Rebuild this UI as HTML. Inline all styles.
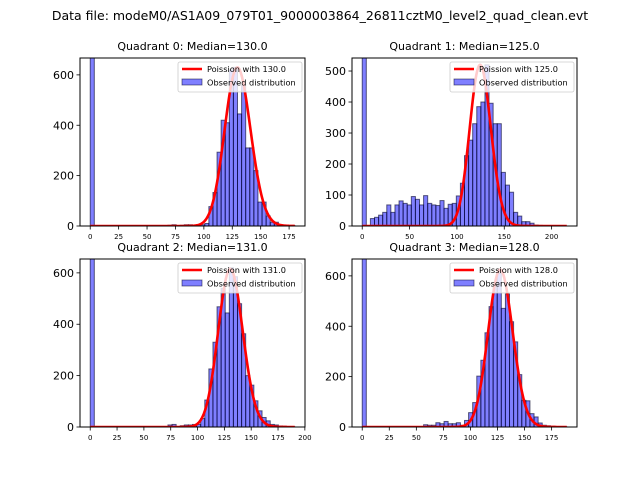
<!DOCTYPE html>
<html><head><meta charset="utf-8"><style>
body{margin:0;background:#fff;}
svg{display:block;font-family:"DejaVu Sans","Liberation Sans",sans-serif;}
</style></head><body>
<svg id="fig" width="640" height="480" viewBox="0 0 640 480">
<rect width="640" height="480" fill="#fff"/>
<text x="320" y="20" text-anchor="middle" font-size="12.5">Data file: modeM0/AS1A09_079T01_9000003864_26811cztM0_level2_quad_clean.evt</text>
</svg>
<script>
// ---- data ----
const medians = [130.0, 125.0, 131.0, 128.0];
const histMax = [180, 216, 190.6, 189];
const yMax = [667, 542, 654, 667];
const poissonAmp = [18000, 14570, 17650, 17725];
const q0Counts = [5000,0,0,0,0,0,0,0,0,0,0,0,0,0,0,0,0,0,0,3,5,2,3,5,5,2,3,5,10,77,133,293,420,410,620,630,445,560,310,310,220,95,95,40,15,15,5,3,2,2];
const q1Counts = [5000,0,24,28,35,44,68,44,68,81,73,68,95,86,68,98,73,68,66,82,57,70,73,97,138,227,277,330,385,400,520,396,330,330,173,132,109,44,32,14,14,9,3,2,1,1,1,1,1,0];
const q2Counts = [5000,0,0,0,0,0,0,0,0,0,0,0,0,0,0,0,0,0,0,8,10,2,5,8,8,10,10,33,105,226,330,468,540,444,620,585,480,363,200,163,102,63,37,24,10,8,4,3,2,1];
const q3Counts = [5000,0,0,0,0,0,0,0,0,0,0,0,0,0,0,9,7,7,17,13,22,13,13,17,7,26,57,97,202,265,374,478,560,610,471,528,418,338,208,106,104,53,40,16,7,5,3,2,2,1];
const xTicks0 = [0,25,50,75,100,125,150,175];
const xTicks1 = [0,50,100,150,200];
const xTicks2 = [0,25,50,75,100,125,150,175,200];
const xTicks3 = [0,25,50,75,100,125,150,175];
const yTicks0 = [0,200,400,600];
const yTicks1 = [0,100,200,300,400,500];
const yTicks2 = [0,200,400,600];
const yTicks3 = [0,200,400,600];

const NS="http://www.w3.org/2000/svg";
const fig=document.getElementById('fig');
function mk(tag,attrs,parent){const e=document.createElementNS(NS,tag);for(const k in attrs)e.setAttribute(k,attrs[k]);(parent||fig).appendChild(e);return e;}
function lgamma(z){
  if(z<7){let p=1;while(z<7){p*=z;z+=1;}return lgamma(z)-Math.log(p);}
  return (z-0.5)*Math.log(z)-z+0.5*Math.log(2*Math.PI)+1/(12*z)-1/(360*z*z*z);
}
const panels=[
 {L:80,T:58,counts:q0Counts,xt:xTicks0,yt:yTicks0},
 {L:352,T:58,counts:q1Counts,xt:xTicks1,yt:yTicks1},
 {L:80,T:259,counts:q2Counts,xt:xTicks2,yt:yTicks2},
 {L:352,T:259,counts:q3Counts,xt:xTicks3,yt:yTicks3}];
const W=225,H=168;
panels.forEach((p,i)=>{
  const span=histMax[i], x0=-0.05*span, x1=span*1.05;
  const sx=v=>p.L+(v-x0)/(x1-x0)*W;
  const sy=v=>p.T+H-v/yMax[i]*H;
  const g=mk('g',{});
  
  
  const cid='clip'+i;
  const cp=mk('clipPath',{id:cid},g);mk('rect',{x:p.L,y:p.T,width:W,height:H},cp);
  const t=mk('text',{x:p.L+W/2,y:p.T-8,'text-anchor':'middle','font-size':'11'},g);
  t.textContent='Quadrant '+i+': Median='+medians[i].toFixed(1);
  
  
  const bars=mk('g',{'clip-path':'url(#'+cid+')'},g);
  const bw=span/p.counts.length;
  p.counts.forEach((c,k)=>{
    if(c<=0)return;
    const r=mk('rect',{x:sx(k*bw),y:sy(c),width:sx(bw)-sx(0),height:sy(0)-sy(c),fill:'rgba(0,0,255,0.5)',stroke:'rgba(0,0,40,0.6)','stroke-width':'1'},bars);
    
    
  });
  let d='';
  for(let k=0;k<=400;k++){const x=span*k/400;const lam=medians[i];
    const pm=x<=0?Math.exp(-lam):Math.exp(x*Math.log(lam)-lam-lgamma(x+1));
    d+=(k?'L':'M')+sx(x).toFixed(2)+','+sy(poissonAmp[i]*pm).toFixed(2);}
  const pl=mk('path',{d:d,fill:'none',stroke:'#ff0000','stroke-width':'2.6','clip-path':'url(#'+cid+')'},g);
  
  
  const ax=mk('rect',{x:p.L,y:p.T,width:W,height:H,fill:'none',stroke:'#000','stroke-width':'1'},g);
  
  
  p.xt.forEach(v=>{const x=sx(v);mk('line',{x1:x,x2:x,y1:p.T+H,y2:p.T+H+3.5,stroke:'#000','stroke-width':'0.8'},g);
    const tt=mk('text',{x:x,y:p.T+H+13,'text-anchor':'middle','font-size':'7'},g);tt.textContent=v;
    
    });
  p.yt.forEach(v=>{const y=sy(v);mk('line',{x1:p.L,x2:p.L-3.5,y1:y,y2:y,stroke:'#000','stroke-width':'0.8'},g);
    const tt=mk('text',{x:p.L-6,y:y+4,'text-anchor':'end','font-size':'11'},g);tt.textContent=v;
    
    });
  const lg=mk('g',{},g);
  
  
  const lx=p.L+W-127;
  mk('rect',{x:lx,y:p.T+4,width:124,height:30,rx:2,fill:'rgba(255,255,255,0.8)',stroke:'#ccc','stroke-width':'0.8'},lg);
  mk('line',{x1:lx+4,x2:lx+24,y1:p.T+11,y2:p.T+11,stroke:'#ff0000','stroke-width':'2.6'},lg);
  mk('rect',{x:lx+4,y:p.T+21,width:20,height:6,fill:'rgba(0,0,255,0.5)',stroke:'rgba(0,0,40,0.6)','stroke-width':'0.8'},lg);
  const l1=mk('text',{x:lx+29,y:p.T+14,'font-size':'8.2'},lg);l1.textContent='Poission with '+medians[i].toFixed(1);
  const l2=mk('text',{x:lx+29,y:p.T+27.5,'font-size':'8.2'},lg);l2.textContent='Observed distribution';
});
</script>
</body></html>
